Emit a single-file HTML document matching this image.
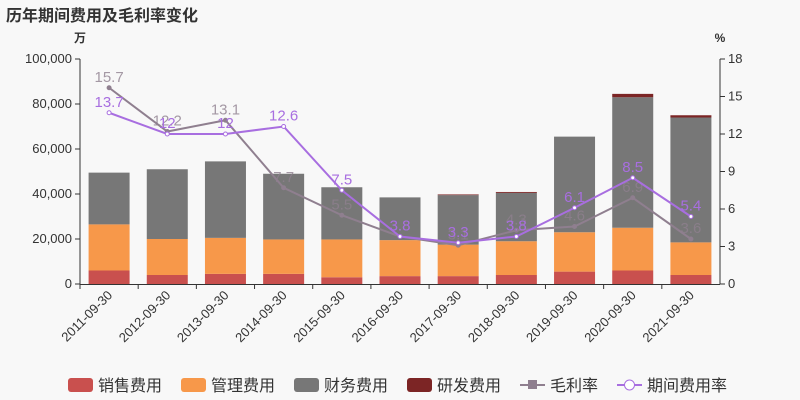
<!DOCTYPE html>
<html><head><meta charset="utf-8"><style>
body{margin:0;background:#f8f8f8;}
svg{display:block;font-family:"Liberation Sans","Noto Sans CJK SC",sans-serif;}
</style></head><body>
<svg id="c" width="800" height="400">
<rect width="800" height="400" fill="#f8f8f8"/>
<text x="6" y="21" font-size="16" font-weight="bold" fill="#333">历年期间费用及毛利率变化</text>
<text x="80" y="42" font-size="12" font-weight="bold" fill="#333" text-anchor="middle">万</text>
<text x="720" y="42" font-size="12" font-weight="bold" fill="#333" text-anchor="middle">%</text>
<g id="g"></g>
</svg>
<script>
const categories=["2011-09-30","2012-09-30","2013-09-30","2014-09-30","2015-09-30","2016-09-30","2017-09-30","2018-09-30","2019-09-30","2020-09-30","2021-09-30"];
const sales=[6000,4000,4500,4500,3000,3500,3500,4000,5500,6000,4000];
const mgmt=[20500,16000,16000,15300,16800,16000,14000,15000,17500,19000,14500];
const finance=[23000,31000,34000,29200,23200,19000,22000,21500,42500,58000,55500];
const rnd=[0,0,0,0,0,0,300,400,0,1500,1000];
const grossMargin=[15.7,12.2,13.1,7.7,5.5,3.8,3.1,4.3,4.6,6.9,3.6];
const expenseRate=[13.7,12,12,12.6,7.5,3.8,3.3,3.8,6.1,8.5,5.4];
const leftTicks=[0,20000,40000,60000,80000,100000];
const rightTicks=[0,3,6,9,12,15,18];

const NS="http://www.w3.org/2000/svg";
const g=document.getElementById('g');
const X0=80,X1=720,Y0=284,Y1=59;
const bw=(X1-X0)/categories.length;
const xc=i=>X0+bw*(i+0.5);
const yl=v=>Y0-(v/100000)*(Y0-Y1);
const yr=v=>Y0-(v/18)*(Y0-Y1);
function el(t,a,txt){const e=document.createElementNS(NS,t);for(const k in a)e.setAttribute(k,a[k]);if(txt!=null)e.textContent=txt;g.appendChild(e);return e;}
const fmt=v=>v.toLocaleString('en-US');

let e=el('line',{x1:X0,y1:Y1,x2:X0,y2:Y0,stroke:'#333'});

e=el('line',{x1:X1,y1:Y1,x2:X1,y2:Y0,stroke:'#333'});

e=el('line',{x1:X0,y1:Y0+0.5,x2:X1,y2:Y0+0.5,stroke:'#333'});

leftTicks.forEach(v=>{
  el('line',{x1:X0-5,y1:yl(v),x2:X0,y2:yl(v),stroke:'#333'});
  const t=el('text',{x:X0-8,y:yl(v)+4,'font-size':13,fill:'#333','text-anchor':'end'},fmt(v));
  
});
rightTicks.forEach(v=>{
  el('line',{x1:X1,y1:yr(v),x2:X1+5,y2:yr(v),stroke:'#333'});
  const t=el('text',{x:X1+8,y:yr(v)+4,'font-size':13,fill:'#333'},v);
  
});
categories.forEach((c,i)=>{
  el('line',{x1:X0+bw*i,y1:Y0,x2:X0+bw*i,y2:Y0+5,stroke:'#333'});
  const x=xc(i)+4,y=Y0+12;
  const t=el('text',{x:x,y:y,'font-size':13,fill:'#333','text-anchor':'end',transform:`rotate(-45 ${x} ${y})`},c);
  
});
const series=[[sales,'#c9504e','sales'],[mgmt,'#f7984a','mgmt'],[finance,'#777777','finance'],[rnd,'#7c2525','rnd']];
categories.forEach((c,i)=>{
  let acc=0;
  series.forEach(([arr,col,nm])=>{
    const v=arr[i];if(v<=0)return;
    const r=el('rect',{x:xc(i)-20.5,y:yl(acc+v),width:41,height:yl(acc)-yl(acc+v),fill:col});
    
    acc+=v;
  });
});
function line(arr,col,nm,lab,fill){
  const p=el('polyline',{points:arr.map((v,i)=>xc(i)+','+yr(v)).join(' '),fill:'none',stroke:col,'stroke-width':2});
  
  arr.forEach((v,i)=>{
    const m=el('circle',{cx:xc(i),cy:yr(v),r:2,fill:fill,stroke:col,'stroke-width':1});
    
    const t=el('text',{x:xc(i),y:yr(v)-6,'font-size':15,fill:lab,'text-anchor':'middle'},v);
    
  });
}
line(grossMargin,'#8f7f8f','gross','rgba(143,127,143,0.8)','#8f7f8f');
line(expenseRate,'#a86ee0','rate','#a86ee0','#fff');
const leg=[['销售费用','#c9504e','rect'],['管理费用','#f7984a','rect'],['财务费用','#777777','rect'],['研发费用','#7c2525','rect'],['毛利率','#8f7f8f','line'],['期间费用率','#a86ee0','circ']];
let lx=68;
const widths=[113,113,113,113,97,120];
leg.forEach(([n,col,k],i)=>{
  if(k==='rect'){const r=el('rect',{x:lx,y:378,width:25,height:14,rx:3,fill:col});}
  else{el('line',{x1:lx,y1:385,x2:lx+25,y2:385,stroke:col,'stroke-width':2});
    const m=k==='line'?el('rect',{x:lx+8,y:380,width:9,height:9,fill:col}):el('circle',{cx:lx+12.5,cy:385,r:5,fill:'#fff',stroke:col,'stroke-width':1});
    }
  const t=el('text',{x:lx+30,y:391,'font-size':16,fill:'#333'},n);
  
  lx+=widths[i];
});
</script>
</body></html>
